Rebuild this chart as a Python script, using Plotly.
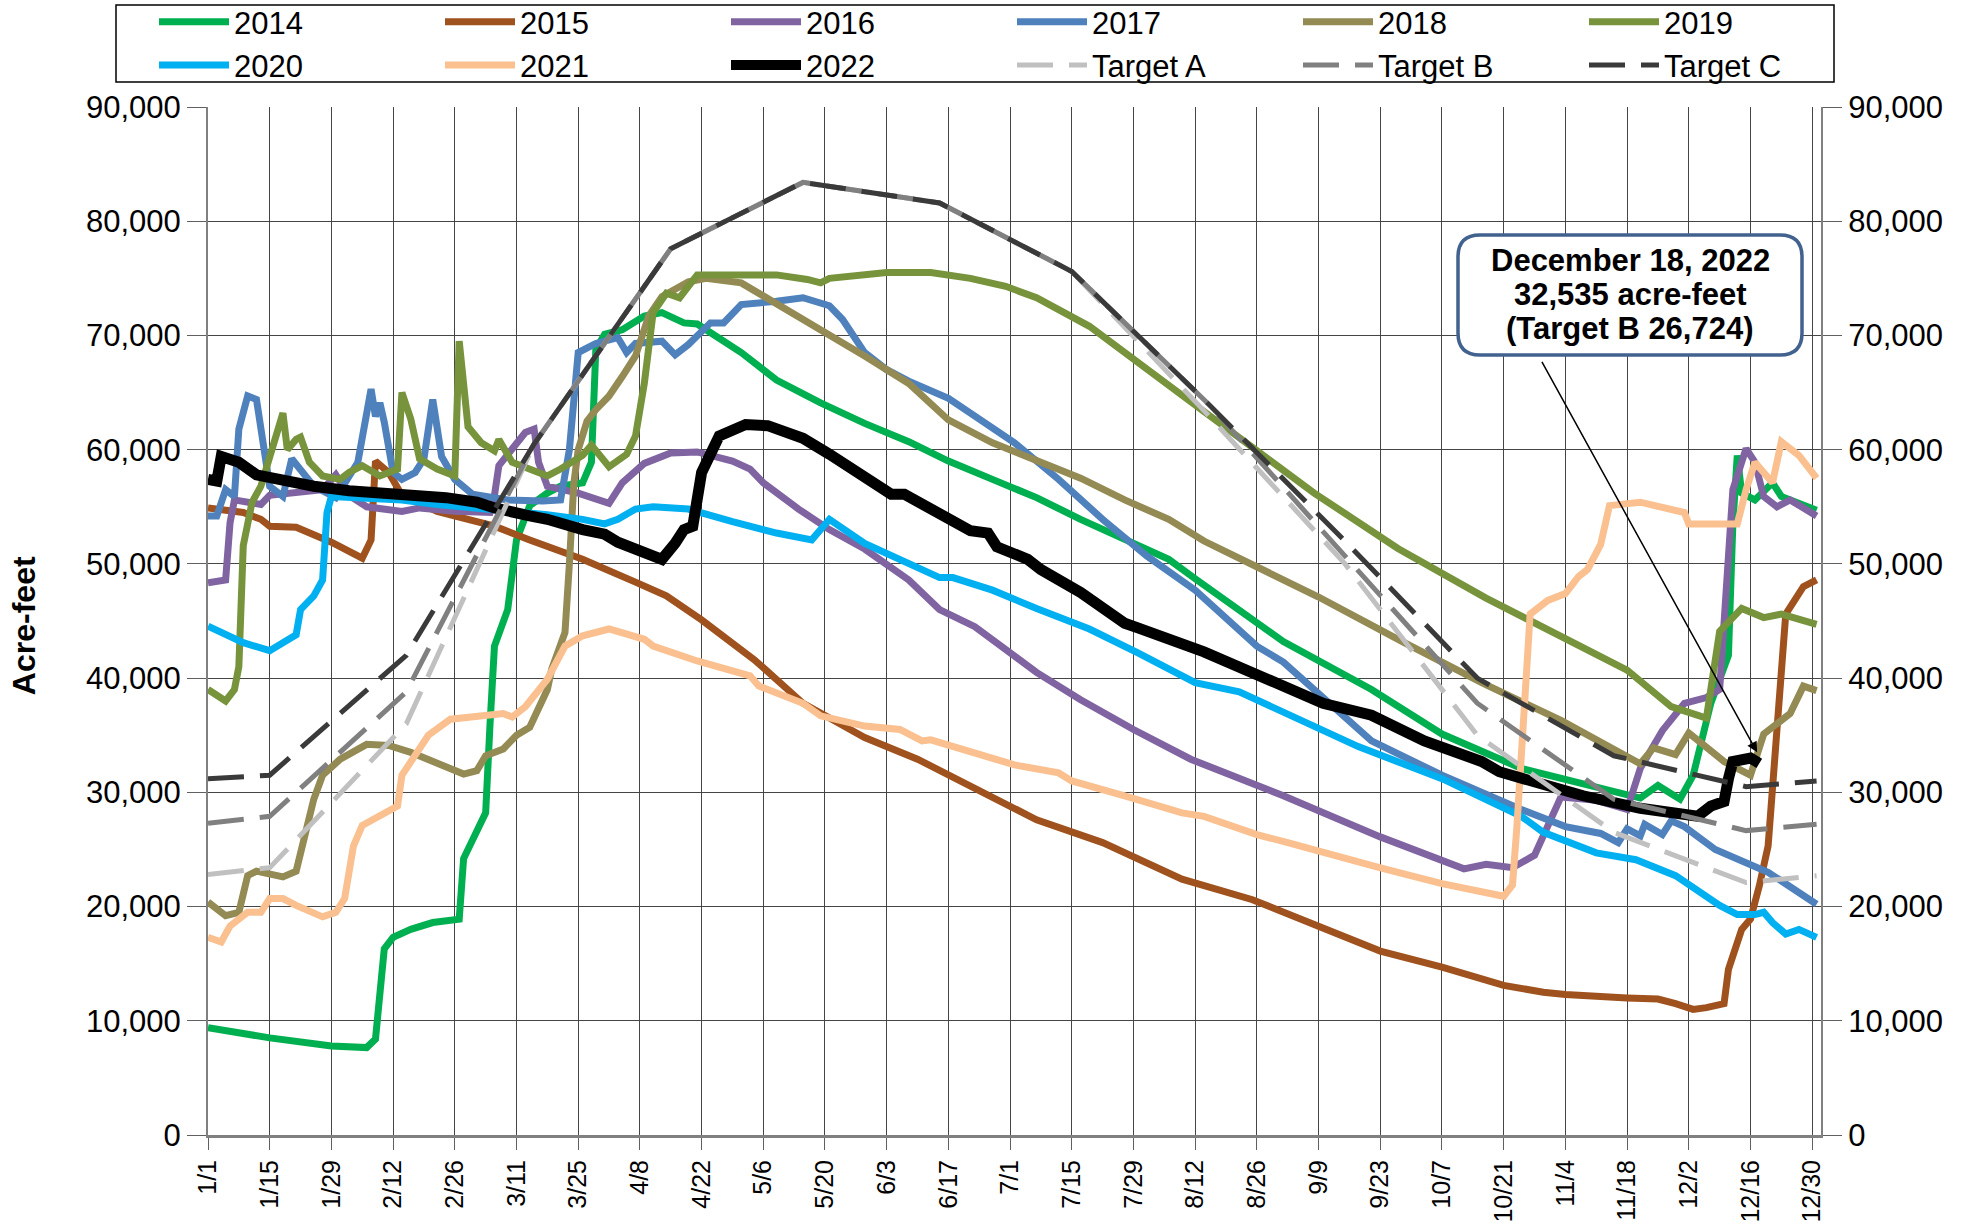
import pandas as pd
import plotly.graph_objects as go

# ---------------- data ----------------
d2014 = ["1/1","1/15","1/29","2/6","2/8","2/10","2/12","2/16","2/21","2/27","2/28","3/2","3/4","3/5","3/6","3/9","3/11","3/14","3/18","3/21","3/26","3/28","3/29","3/31","4/4","4/9","4/13","4/18","4/21","5/1","5/9","5/19","5/29","6/8","6/17","6/27","7/7","7/17","7/27","8/6","8/12","8/22","9/1","9/21","10/7","10/25","11/12","11/21","11/25","11/30","12/3","12/7","12/11","12/12","12/13","12/14","12/17","12/21","12/23","12/31"]
v2014 = [9400,8500,7800,7650,8400,16300,17300,18000,18600,18900,24200,26500,28200,36000,42800,46000,52100,55100,56200,56800,57100,58900,68800,70100,70500,71700,72000,71100,71000,68500,66100,64100,62300,60700,59000,57400,55800,53900,52100,50400,48700,46000,43200,39000,35100,32100,30300,29500,30600,29400,31500,37800,42000,53500,59500,56200,55600,57100,55900,54700]

d2015 = ["1/1","1/9","1/13","1/15","1/21","1/29","2/5","2/7","2/8","2/11","2/14","2/22","2/29","3/6","3/14","3/26","4/7","4/14","4/22","5/4","5/15","5/29","6/10","6/22","7/7","7/22","8/9","8/25","9/9","9/23","10/7","10/21","10/30","11/4","11/18","11/25","11/29","12/3","12/6","12/10","12/11","12/14","12/16","12/18","12/20","12/21","12/22","12/24","12/28","12/31"]
v2015 = [54900,54500,53900,53300,53200,51900,50500,52100,59000,58000,56000,54600,53900,53300,52100,50400,48400,47200,45100,41600,37800,34800,32900,30500,27600,25600,22400,20600,18300,16100,14700,13100,12500,12300,12000,11900,11500,11000,11150,11500,14500,18000,18900,21800,25300,30000,36000,45600,48000,48600]

d2016 = ["1/1","1/5","1/6","1/7","1/13","1/15","1/27","1/30","2/2","2/6","2/14","2/18","2/26","3/5","3/6","3/7","3/13","3/15","3/16","3/18","3/25","4/1","4/4","4/9","4/15","4/21","4/29","5/3","5/6","5/14","5/21","5/29","6/8","6/15","6/23","7/7","7/17","7/29","8/11","9/1","9/23","10/12","10/17","10/23","10/28","10/30","11/1","11/3","11/11","11/18","11/21","11/26","12/1","12/6","12/9","12/11","12/12","12/15","12/17","12/19","12/22","12/25","12/31"]
v2016 = [48350,48600,53600,55600,55200,56000,56500,57800,56000,55000,54600,54900,54600,54500,56000,58600,61500,61800,58900,56800,56200,55300,57100,58800,59700,59800,59000,58300,57100,54800,53000,51300,48600,46000,44500,40500,38100,35500,32900,29700,26100,23300,23700,23400,24500,26200,27800,29600,29300,28500,32100,35400,37800,38300,39000,51000,56500,60100,58900,55900,55000,55600,54200]

d2017 = ["1/1","1/3","1/5","1/7","1/8","1/10","1/12","1/14","1/15","1/18","1/20","1/25","1/30","2/4","2/7","2/8","2/9","2/10","2/12","2/14","2/17","2/19","2/21","2/23","2/26","3/1","3/5","3/9","3/17","3/21","3/23","3/25","3/29","4/3","4/5","4/7","4/13","4/16","4/19","4/24","4/27","5/1","5/9","5/15","5/21","5/24","5/29","6/3","6/8","6/17","6/22","7/2","7/12","7/22","8/1","8/12","8/26","9/1","9/21","10/7","10/25","11/4","11/12","11/16","11/18","11/21","11/22","11/26","11/28","12/1","12/8","12/20","12/31"]
v2017 = [54200,54200,56500,55900,61800,64700,64400,58900,56800,55900,59200,56800,55800,58900,65300,62900,64100,62400,58000,57400,58000,59200,64400,59400,57400,56100,55900,55600,55500,55600,60000,68500,69300,69800,68500,69300,69500,68300,69200,71100,71100,72700,73000,73300,72600,71400,68500,67000,66000,64500,63200,60600,57400,53900,50700,47700,42800,41400,34500,31500,28500,27000,26400,25600,26800,26200,27200,26300,27500,27000,25000,23000,20200]

d2018 = ["1/1","1/5","1/8","1/10","1/12","1/18","1/21","1/23","1/25","1/27","1/31","2/6","2/11","2/16","2/22","2/28","3/2","3/4","3/8","3/11","3/14","3/18","3/19","3/22","3/23","3/24","3/25","3/27","3/29","4/1","4/4","4/7","4/10","4/13","4/19","4/23","5/1","5/14","5/29","6/8","6/17","6/27","7/7","7/17","7/27","8/6","8/14","9/9","9/28","10/16","11/3","11/21","11/24","11/29","12/2","12/6","12/10","12/16","12/19","12/25","12/28","12/31"]
v2018 = [20400,19200,19500,22700,23100,22600,23100,26500,29400,31500,32900,34200,34100,33500,32600,31600,31900,33200,33800,35000,35700,39000,40800,44000,50000,57000,60000,62500,63500,64700,66400,68200,71700,73400,74700,75000,74600,71700,68200,65800,62600,60600,59000,57500,55600,53900,52000,47100,43200,39600,36300,32500,33900,33300,35200,33900,32700,31500,35100,36900,39300,38900]

d2019 = ["1/1","1/5","1/7","1/8","1/9","1/11","1/13","1/18","1/19","1/21","1/22","1/24","1/27","1/31","2/2","2/5","2/9","2/13","2/14","2/16","2/18","2/22","2/26","2/27","2/29","3/2","3/3","3/6","3/7","3/10","3/14","3/18","3/21","3/26","3/28","4/1","4/5","4/7","4/9","4/11","4/14","4/17","4/21","5/1","5/9","5/16","5/19","5/21","6/3","6/13","6/22","6/30","7/7","7/19","7/30","8/11","9/8","9/27","10/17","11/11","11/18","11/28","12/6","12/9","12/14","12/19","12/23","12/31"]
v2019 = [39000,38000,39000,41000,51600,55400,56800,63200,60000,60900,61100,58900,57700,57400,58000,58600,57700,58300,65000,62700,59200,58300,57700,69500,62000,61200,60600,59900,60900,58900,58300,57700,58300,59500,60400,58500,59600,61200,65800,72000,73700,73300,75300,75300,75300,74900,74600,75000,75500,75500,75000,74300,73300,70800,67600,64200,56200,51350,47000,42000,40700,37500,36500,44100,46100,45300,45600,44700]

d2020 = ["1/1","1/9","1/15","1/18","1/21","1/22","1/25","1/27","1/28","1/29","2/6","2/14","2/22","3/2","3/10","3/18","3/26","3/31","4/3","4/7","4/11","4/19","4/29","5/9","5/17","5/21","5/29","6/8","6/15","6/18","6/27","7/7","7/19","7/30","8/12","8/22","9/18","10/7","10/25","10/30","11/11","11/20","11/29","12/9","12/13","12/17","12/19","12/21","12/24","12/27","12/31"]
v2020 = [44550,43100,42400,43100,43800,46000,47200,48600,54500,55900,55800,55600,55200,54900,54600,54300,53900,53500,53900,54800,55000,54800,53700,52700,52100,53900,51800,50100,48800,48800,47700,46100,44300,42200,39600,38800,34000,31200,27900,26500,24700,24100,22700,20100,19300,19300,19500,18600,17600,18000,17300]

d2021 = ["1/1","1/4","1/6","1/10","1/13","1/15","1/18","1/21","1/27","1/30","2/1","2/3","2/5","2/9","2/13","2/14","2/17","2/20","2/25","3/8","3/10","3/13","3/18","3/22","3/26","4/1","4/9","4/11","4/21","5/3","5/5","5/15","5/19","5/29","6/6","6/11","6/13","6/22","7/2","7/12","7/15","7/27","8/9","8/14","8/22","8/26","9/2","9/18","9/22","9/27","10/7","10/21","10/23","10/24","10/25","10/27","10/31","11/4","11/7","11/9","11/12","11/14","11/21","12/1","12/2","12/13","12/15","12/17","12/21","12/23","12/27","12/31"]
v2021 = [17300,16900,18300,19500,19500,20700,20700,20100,19100,19500,20700,25300,27100,28000,28800,31500,33200,35000,36400,36900,36600,37500,39900,42800,43700,44300,43400,42800,41500,40200,39300,37800,36700,35800,35500,34500,34600,33500,32400,31700,31000,29700,28200,27900,26900,26300,25600,23800,23500,23000,22000,20900,21900,27000,33000,45600,46800,47400,48900,49500,51700,55100,55400,54500,53500,53500,56500,58900,57100,60700,59500,57500]

d2022 = ["1/1","1/3","1/4","1/8","1/12","1/17","1/25","2/2","2/10","2/18","2/24","3/2","3/6","3/14","3/18","3/26","3/31","4/3","4/7","4/10","4/13","4/16","4/18","4/20","4/21","4/22","4/26","5/2","5/7","5/15","5/21","5/27","6/4","6/7","6/15","6/22","6/26","6/28","7/5","7/8","7/17","7/27","7/30","8/9","8/14","9/10","9/21","10/3","10/16","10/20","10/30","11/8","11/21","12/4","12/7","12/10","12/11","12/12","12/16","12/18"]
v2022 = [57400,57250,59400,58900,57800,57400,56800,56400,56200,56100,55800,55400,54900,54200,53900,53000,52600,51900,51300,51000,50400,51800,53000,53300,55500,58000,61200,62200,62100,61000,59600,58000,56100,56100,54500,52900,52700,51500,50400,49500,47500,44800,44400,43100,42300,37800,36750,34500,32700,31800,30600,29700,28600,27900,28800,29200,31200,32700,33000,32535]

target_dates = ["1/1","1/15","2/15","3/15","4/15","5/15","6/15","7/15","8/15","9/15","10/15","11/15","12/15","12/31"]
target_a = [22800,23400,36000,60500,77600,83400,81600,75600,63000,50000,35000,26500,22100,22700]
target_b = [27300,27900,38800,60500,77600,83400,81600,75600,64000,50700,37800,29400,26650,27200]
target_c = [31200,31500,42000,60500,77600,83400,81600,75600,64000,52000,40000,33200,30500,31000]

y_ticks = [0, 10000, 20000, 30000, 40000, 50000, 60000, 70000, 80000, 90000]

callout_lines = ["December 18, 2022", "32,535 acre-feet", "(Target B 26,724)"]
callout_date = "12/18"
callout_value = 33500

# ---------------- figure ----------------
def to_dt(ds):
    return pd.to_datetime(["2020/" + s for s in ds], format="%Y/%m/%d")

W, H = 1969, 1231
L, R, T, B = 208, 1821, 107, 1135
PW, PH = R - L, B - T

def px(X):
    return (X - L) / PW

def py(Y):
    return (B - Y) / PH

FONT = "Liberation Sans, Arial, sans-serif"

fig = go.Figure()

years = [
    ("2014", d2014, v2014, "#00B050", 7),
    ("2015", d2015, v2015, "#A0521E", 7),
    ("2016", d2016, v2016, "#8064A2", 7),
    ("2017", d2017, v2017, "#4F81BD", 7),
    ("2018", d2018, v2018, "#948A54", 7),
    ("2019", d2019, v2019, "#77933C", 7),
    ("2020", d2020, v2020, "#00B0F0", 7),
    ("2021", d2021, v2021, "#FAC090", 7),
    ("2022", d2022, v2022, "#000000", 11),
]
for name, d, v, c, w in years:
    fig.add_trace(go.Scatter(x=to_dt(d), y=v, name=name, mode="lines",
                             line=dict(color=c, width=w)))

targets = [
    ("Target A", target_a, "#C0C0C0"),
    ("Target B", target_b, "#808080"),
    ("Target C", target_c, "#3A3A3A"),
]
for name, v, c in targets:
    fig.add_trace(go.Scatter(x=to_dt(target_dates), y=v, name=name, mode="lines",
                             line=dict(color=c, width=5, dash="36px,16px")))

# invisible trace so the right-hand axis is drawn
fig.add_trace(go.Scatter(x=to_dt(["1/1"]), y=[0], yaxis="y2", mode="markers",
                         marker=dict(opacity=0), showlegend=False, hoverinfo="skip"))

axis_common = dict(range=[0, 90000], tickvals=y_ticks, tickformat=",d",
                   ticks="outside", ticklen=19, tickcolor="#606060",
                   showline=True, linecolor="#808080", linewidth=2,
                   tickfont=dict(size=31, family=FONT, color="black"))

fig.update_layout(
    width=W, height=H,
    margin=dict(l=L, r=W - R, t=T, b=H - B, autoexpand=False),
    paper_bgcolor="white", plot_bgcolor="white",
    font=dict(family=FONT, size=28, color="black"),
    showlegend=True,
    xaxis=dict(type="date", range=["2020-01-01", "2021-01-01"],
               tick0="2020-01-01", dtick=14 * 86400000, tickformat="%-m/%-d",
               tickangle=-90, tickfont=dict(size=25, family=FONT, color="black"),
               showgrid=True, gridcolor="#454545", gridwidth=1,
               ticks="outside", ticklen=12, tickcolor="#606060",
               showline=True, linecolor="#808080", linewidth=3, zeroline=False),
    yaxis=dict(showgrid=True, gridcolor="#454545", gridwidth=1, zeroline=False,
               **axis_common),
    yaxis2=dict(overlaying="y", side="right", showgrid=False, zeroline=False,
                **axis_common),
    legend=dict(orientation="h", x=px(154), xanchor="left", y=py(-5), yanchor="top",
                font=dict(size=31, family=FONT, color="black"),
                bgcolor="rgba(0,0,0,0)", borderwidth=0,
                entrywidth=201, itemwidth=70, tracegroupgap=0,
                traceorder="normal"),
)

# legend frame
fig.add_shape(type="rect", xref="paper", yref="paper",
              x0=px(116), x1=px(1834), y0=py(82), y1=py(5),
              line=dict(color="black", width=1.5), fillcolor="rgba(0,0,0,0)", layer="below")

# y-axis title
fig.add_annotation(text="<b>Acre-feet</b>", xref="paper", yref="paper",
                   x=px(24), y=0.495, textangle=-90, showarrow=False,
                   xanchor="center", yanchor="middle",
                   font=dict(size=32, family=FONT, color="black"))

# call-out box with rounded corners
x0, x1, y0, y1, r = 1458, 1802, 235, 355, 22
path = (f"M {px(x0 + r)},{py(y0)} L {px(x1 - r)},{py(y0)} Q {px(x1)},{py(y0)} {px(x1)},{py(y0 + r)} "
        f"L {px(x1)},{py(y1 - r)} Q {px(x1)},{py(y1)} {px(x1 - r)},{py(y1)} "
        f"L {px(x0 + r)},{py(y1)} Q {px(x0)},{py(y1)} {px(x0)},{py(y1 - r)} "
        f"L {px(x0)},{py(y0 + r)} Q {px(x0)},{py(y0)} {px(x0 + r)},{py(y0)} Z")
fig.add_shape(type="path", xref="paper", yref="paper", path=path,
              line=dict(color="#41618F", width=3.5), fillcolor="white", layer="above")

for i, txt in enumerate(callout_lines):
    fig.add_annotation(text="<b>" + txt + "</b>", xref="paper", yref="paper",
                       x=px(1630), y=py(260 + 34 * i), showarrow=False,
                       xanchor="center", yanchor="middle",
                       font=dict(size=31, family=FONT, color="black"))

# arrow from the box to the 12/18 point
fig.add_annotation(text="", x=to_dt([callout_date])[0] - pd.Timedelta(hours=12), y=callout_value,
                   xref="x", yref="y", showarrow=True, ax=-216, ay=-392,
                   arrowhead=2, arrowsize=1.4, arrowwidth=1.5, arrowcolor="black", standoff=0)

fig.write_html("out.html", config={"displayModeBar": False},
               post_script="document.body.style.margin='0';document.body.style.overflow='hidden';")
